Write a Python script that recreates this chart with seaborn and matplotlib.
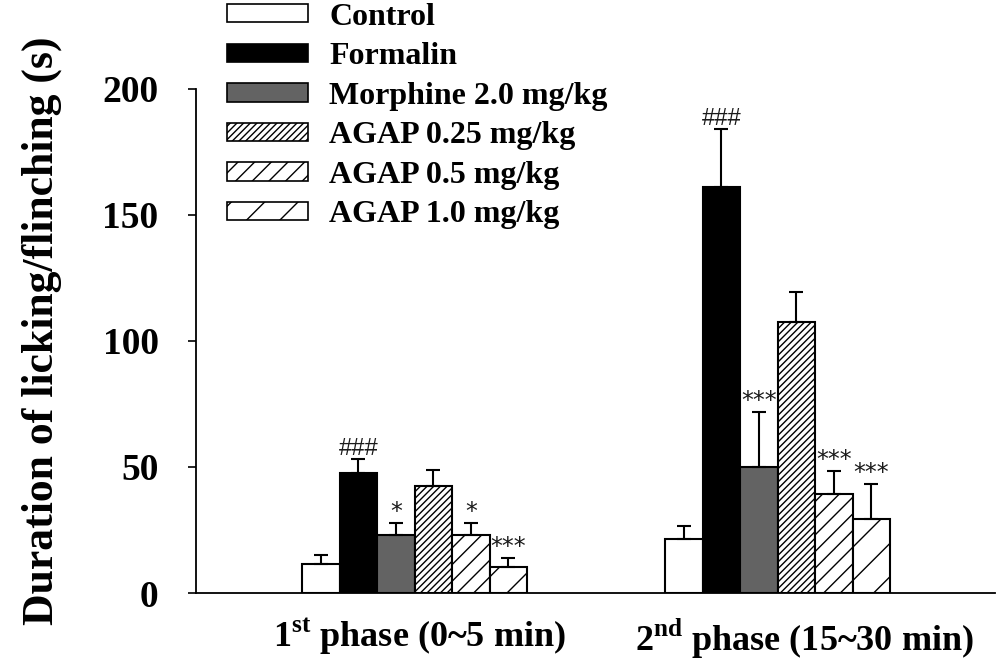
import numpy as np
import pandas as pd
import matplotlib
matplotlib.use('Agg')
import matplotlib.pyplot as plt
import matplotlib.patches as mpatches
import matplotlib.transforms as mtransforms
import seaborn as sns

sns.set_theme(style='ticks')
plt.rcParams['font.family'] = ['Liberation Serif', 'DejaVu Serif']
plt.rcParams['text.color'] = 'black'
plt.rcParams['axes.labelcolor'] = 'black'
plt.rcParams['xtick.color'] = 'black'
plt.rcParams['ytick.color'] = 'black'
plt.rcParams['mathtext.fontset'] = 'custom'
plt.rcParams['mathtext.bf'] = 'Liberation Serif:bold'
plt.rcParams['mathtext.rm'] = 'Liberation Serif:bold'
plt.rcParams['hatch.linewidth'] = 1.0

# data (mean and SEM, seconds)
phases = ['1st', '2nd']
phase_labels = ['1$^{\\mathbf{st}}$ phase (0~5 min)', '2$^{\\mathbf{nd}}$ phase (15~30 min)']
groups = ['Control', 'Formalin', 'Morphine 2.0 mg/kg',
          'AGAP 0.25 mg/kg', 'AGAP 0.5 mg/kg', 'AGAP 1.0 mg/kg']
control = [11.5, 21.3]
formalin = [47.5, 161.2]
morphine = [23.0, 50.1]
agap_025 = [42.6, 107.5]
agap_05 = [23.0, 39.2]
agap_10 = [10.5, 29.4]
control_sem = [3.5, 5.3]
formalin_sem = [5.7, 23.0]
morphine_sem = [4.6, 21.6]
agap_025_sem = [6.3, 12.1]
agap_05_sem = [4.6, 9.3]
agap_10_sem = [3.4, 13.9]
marks_1st = ['', '###', '*', '', '*', '***']
marks_2nd = ['', '###', '***', '', '***', '***']

means = [control, formalin, morphine, agap_025, agap_05, agap_10]
sems = [control_sem, formalin_sem, morphine_sem, agap_025_sem, agap_05_sem, agap_10_sem]
marks = [[a, b] for a, b in zip(marks_1st, marks_2nd)]

colors = ['white', 'black', '#636363', 'white', 'white', 'white']
hatches = ['', '', '', '/////', '//', '/']

df = pd.DataFrame([(g, p, means[i][j]) for i, g in enumerate(groups) for j, p in enumerate(phases)],
                  columns=['group', 'phase', 'value'])

fig = plt.figure(figsize=(10, 6.66), dpi=100)
ax = fig.add_axes([0.196, 0.1096, 0.799, 0.7568])

sns.barplot(data=df, x='phase', y='value', hue='group', order=phases, hue_order=groups,
            palette=colors, saturation=1, width=0.62, errorbar=None,
            edgecolor='black', linewidth=1.5, ax=ax)

bar_containers = list(ax.containers)
for i, cont in enumerate(bar_containers):
    xs = []
    for bar in cont.patches:
        bar.set_hatch(hatches[i])
        bar.set_edgecolor('black')
        xs.append(bar.get_x() + bar.get_width() / 2)
    ax.errorbar(xs, means[i], yerr=[np.zeros(2), sems[i]], fmt='none', ecolor='black',
                elinewidth=1.5, capsize=5, capthick=1.5, zorder=3)
    for j, x in enumerate(xs):
        if marks[i][j]:
            fam = 'Liberation Sans' if '#' in marks[i][j] else 'DejaVu Sans'
            ax.annotate(marks[i][j], (x, means[i][j] + sems[i][j]), xytext=(0, 3),
                        textcoords='offset points', ha='center', va='baseline',
                        fontsize=17, family=fam, color='#1a1a1a')

ax.set_xlim(-0.602, 1.599)
ax.set_ylim(0, 200)
ax.set_yticks([0, 50, 100, 150, 200])
ax.set_xticks([0, 1])
ax.set_xticklabels(phase_labels, fontsize=26, fontweight='bold')
ax.tick_params(axis='x', length=0, pad=17)
ax.tick_params(axis='y', length=6, width=1.2, direction='out', pad=21, labelsize=27)
for lab in ax.get_yticklabels():
    lab.set_fontweight('bold')
# the second phase label sits a little right of its bars in the original
xl = ax.get_xticklabels()
xl[0].set_transform(xl[0].get_transform() + mtransforms.ScaledTranslation(0.05, 0, fig.dpi_scale_trans))
xl[1].set_transform(xl[1].get_transform() + mtransforms.ScaledTranslation(0.27, 0, fig.dpi_scale_trans))
ax.set_xlabel('')
ax.set_ylabel('Duration of licking/flinching (s)', fontsize=31.5, fontweight='bold')
ax.yaxis.set_label_coords(-0.168, 0.52)
sns.despine(ax=ax)
for s in ['left', 'bottom']:
    ax.spines[s].set_linewidth(1.3)
    ax.spines[s].set_color('black')

ax.get_legend().remove()
handles = [mpatches.Patch(facecolor=colors[i], edgecolor='black', hatch=hatches[i], linewidth=1.2)
           for i in range(len(groups))]
ax.legend(handles, groups, loc='upper left', bbox_to_anchor=(0.227, 0.996),
          bbox_transform=fig.transFigure, frameon=False, borderpad=0, borderaxespad=0,
          handlelength=2.55, handleheight=0.5, handletextpad=0.65, labelspacing=0.33,
          prop={'family': 'Liberation Serif', 'weight': 'bold', 'size': 23})

fig.savefig('out.png', dpi=100)
